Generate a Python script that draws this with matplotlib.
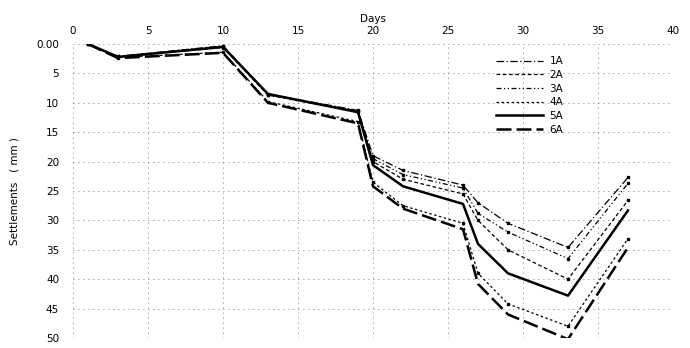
import matplotlib
matplotlib.use("Agg")
import matplotlib.pyplot as plt

days = [1, 3, 10, 13, 19, 20, 22, 26, 27, 29, 33, 37]
series_names = ["1A", "2A", "3A", "4A", "5A", "6A"]
s1A = [0, 2.1, 0.3, 8.5, 11.3, 19.0, 21.5, 24.0, 27.0, 30.5, 34.6, 22.7]
s2A = [0, 2.2, 0.6, 8.7, 11.5, 20.0, 23.0, 25.5, 30.0, 35.0, 40.0, 26.6]
s3A = [0, 2.1, 0.4, 8.6, 11.4, 19.5, 22.2, 24.5, 28.8, 32.0, 36.5, 23.7]
s4A = [0, 2.3, 1.4, 9.8, 13.2, 23.5, 27.5, 30.5, 39.0, 44.2, 48.0, 33.1]
s5A = [0, 2.2, 0.5, 8.5, 11.6, 20.6, 24.2, 27.2, 34.0, 39.0, 42.8, 28.3]
s6A = [0, 2.4, 1.5, 10.0, 13.5, 24.2, 28.0, 31.5, 40.8, 46.0, 50.2, 34.6]
x_ticks = [0, 5, 10, 15, 20, 25, 30, 35, 40]
y_ticks = [0, 5, 10, 15, 20, 25, 30, 35, 40, 45, 50]
y_tick_labels = ["0.00", "5", "10", "15", "20", "25", "30", "35", "40", "45", "50"]

plt.rcParams['font.family'] = ['DejaVu Sans']
fig = plt.figure(figsize=(6.9, 3.48), dpi=100)
ax = fig.add_axes([73/690, 1-338/348, 600/690, 294/348])

# grid (sparse dotted, like a scanned grid)
for xv in x_ticks:
    ax.axvline(xv, color='0.3', lw=0.6, ls=(0, (1, 5)), zorder=0)
for yv in y_ticks:
    ax.axhline(yv, color='0.3', lw=0.6, ls=(0, (1, 5)), zorder=0)

styles = {
    "1A": dict(lw=0.9, ls=(0, (6, 2, 1, 2)), marker='s', ms=2),
    "2A": dict(lw=0.9, ls=(0, (3, 2)), marker='s', ms=2),
    "3A": dict(lw=0.9, ls=(0, (4, 2, 1, 2, 1, 2)), marker='s', ms=2),
    "4A": dict(lw=0.9, ls=(0, (2, 2)), marker='s', ms=1.8),
    "5A": dict(lw=1.8, ls='-'),
    "6A": dict(lw=1.8, ls=(0, (6, 2))),
}
data = [s1A, s2A, s3A, s4A, s5A, s6A]
for name, vals in zip(series_names, data):
    ax.plot(days, vals, color='black', label=name, **styles[name])

ax.set_xlim(0, 40)
ax.set_ylim(50, 0)
ax.xaxis.tick_top()
ax.xaxis.set_label_position('top')
ax.set_xticks(x_ticks)
ax.set_yticks(y_ticks)
ax.set_yticklabels(y_tick_labels)
ax.tick_params(axis='x', length=0, labelsize=7.5, pad=6)
ax.tick_params(axis='y', length=0, labelsize=7.5, pad=10)
ax.set_xlabel("Days", fontsize=7.5, labelpad=3)
ax.set_ylabel("Settlements   ( mm )", fontsize=7.5, labelpad=12)
for sp in ax.spines.values():
    sp.set_visible(False)

leg = ax.legend(loc='upper left', bbox_to_anchor=(0.69, 0.99), frameon=False,
                fontsize=7.5, handlelength=4.5, labelspacing=0.35,
                handletextpad=0.6, markerfirst=True)
for h in leg.legend_handles:
    h.set_marker('')

fig.savefig("out.png", dpi=100)
